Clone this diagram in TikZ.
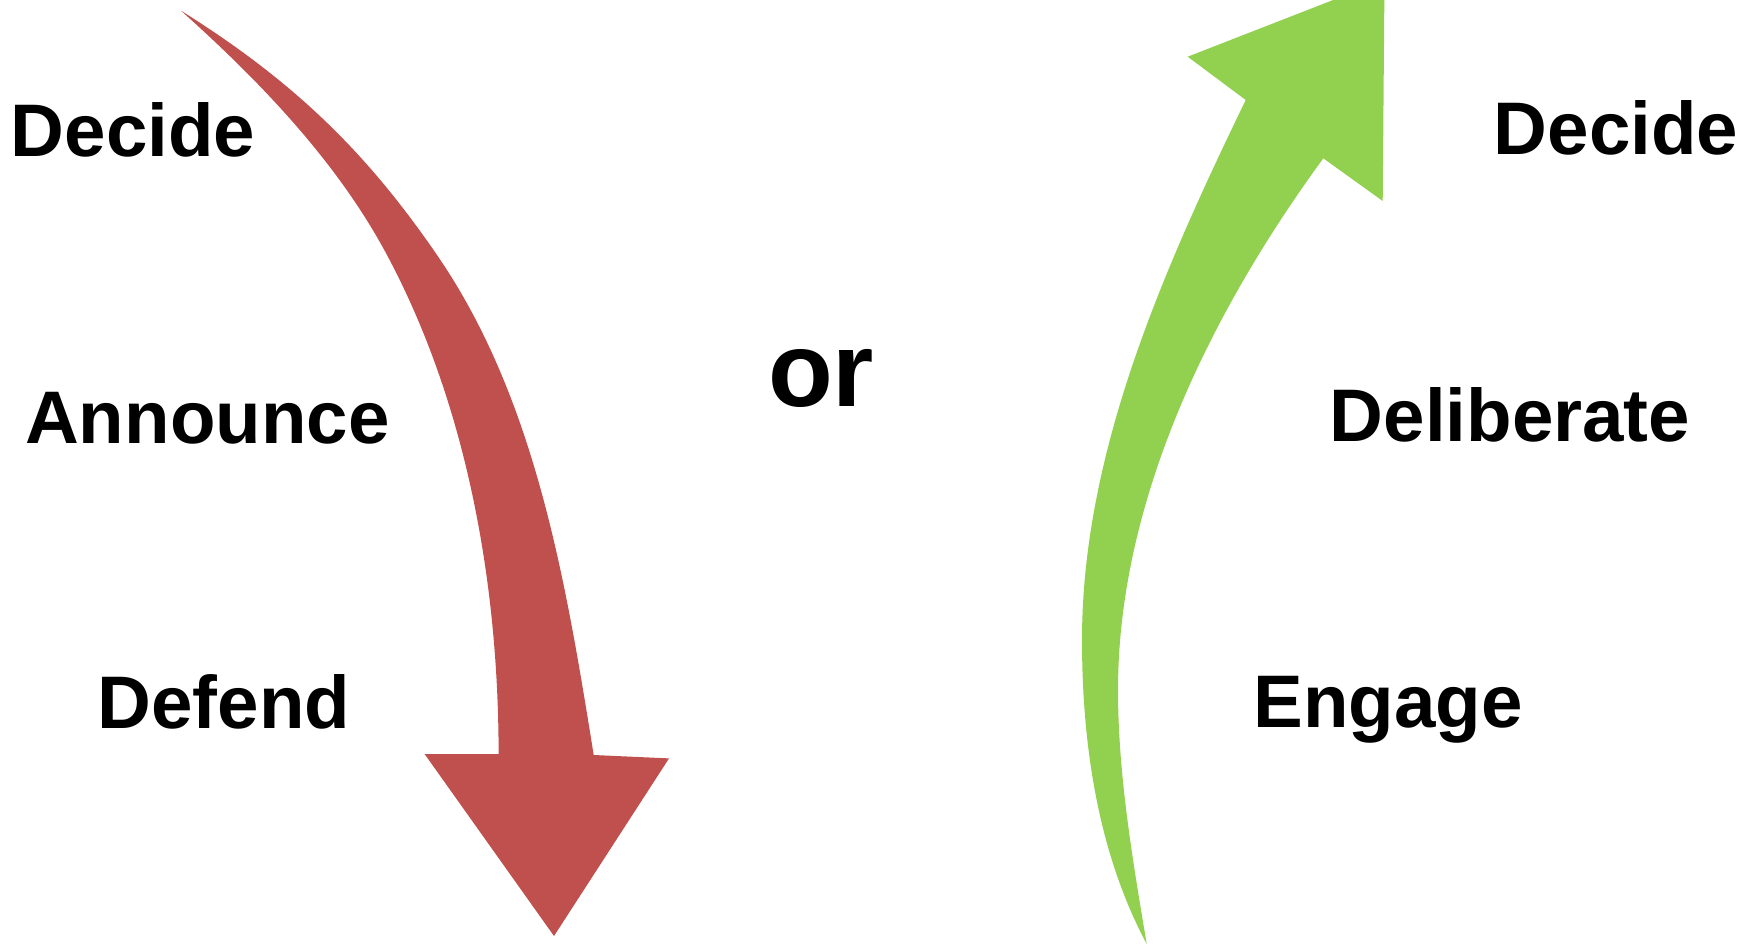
\documentclass[tikz,border=0pt]{standalone}
\usepackage{fontspec}
\setmainfont{Liberation Sans}
\definecolor{arrowred}{HTML}{C0504D}
\definecolor{arrowgreen}{HTML}{92D050}
\tikzset{
  label/.style={font=\bfseries\fontsize{74.5}{80}\selectfont, inner sep=0pt, anchor=base, text=black},
  bigor/.style={font=\bfseries\fontsize{106}{112}\selectfont, inner sep=0pt, anchor=base, text=black},
  redshape/.style={fill=arrowred},
  greenshape/.style={fill=arrowgreen},
}
\begin{document}
\begin{tikzpicture}[x=1pt,y=-1pt]
\useasboundingbox (0,0) rectangle (1739,944);
\clip (0,0) rectangle (1739,944);
\fill[white] (0,0) rectangle (1739,944);
% red arrow
\fill[redshape] (181,10.7)
  .. controls (300,85) and (370.3,158) .. (437,255)
  .. controls (535.9,398.9) and (565.9,582.3) .. (593.7,755)
  -- (669,758.4) -- (554,936) -- (424.6,754) -- (498.6,754)
  .. controls (498.6,584) and (467,404.6) .. (387,255)
  .. controls (337.2,161.7) and (260,81.4) .. (181,10.7) -- cycle;
% green arrow
\fill[greenshape] (1146.7,944)
  .. controls (1097.8,852.5) and (1082,744) .. (1082,640)
  .. controls (1082,452) and (1163.9,269.2) .. (1245.7,100)
  -- (1187.7,56.7) -- (1384.5,-20) -- (1382.7,201) -- (1323.3,158.3)
  .. controls (1211.2,311.6) and (1118,500) .. (1118,690)
  .. controls (1118,775) and (1132.7,860.2) .. (1146.7,944) -- cycle;
% labels
\node[label] (decideL) at (133,156.5) {Decide};
\node[label] (announce) at (207.3,443.6) {Announce};
\node[label] (defend) at (224,728.6) {Defend};
\node[bigor] (or) at (821,406) {or};
\node[label] (decideR) at (1616,155) {Decide};
\node[label] (deliberate) at (1510,441) {Deliberate};
\node[label] (engage) at (1388,727.5) {Engage};
\end{tikzpicture}
\end{document}
